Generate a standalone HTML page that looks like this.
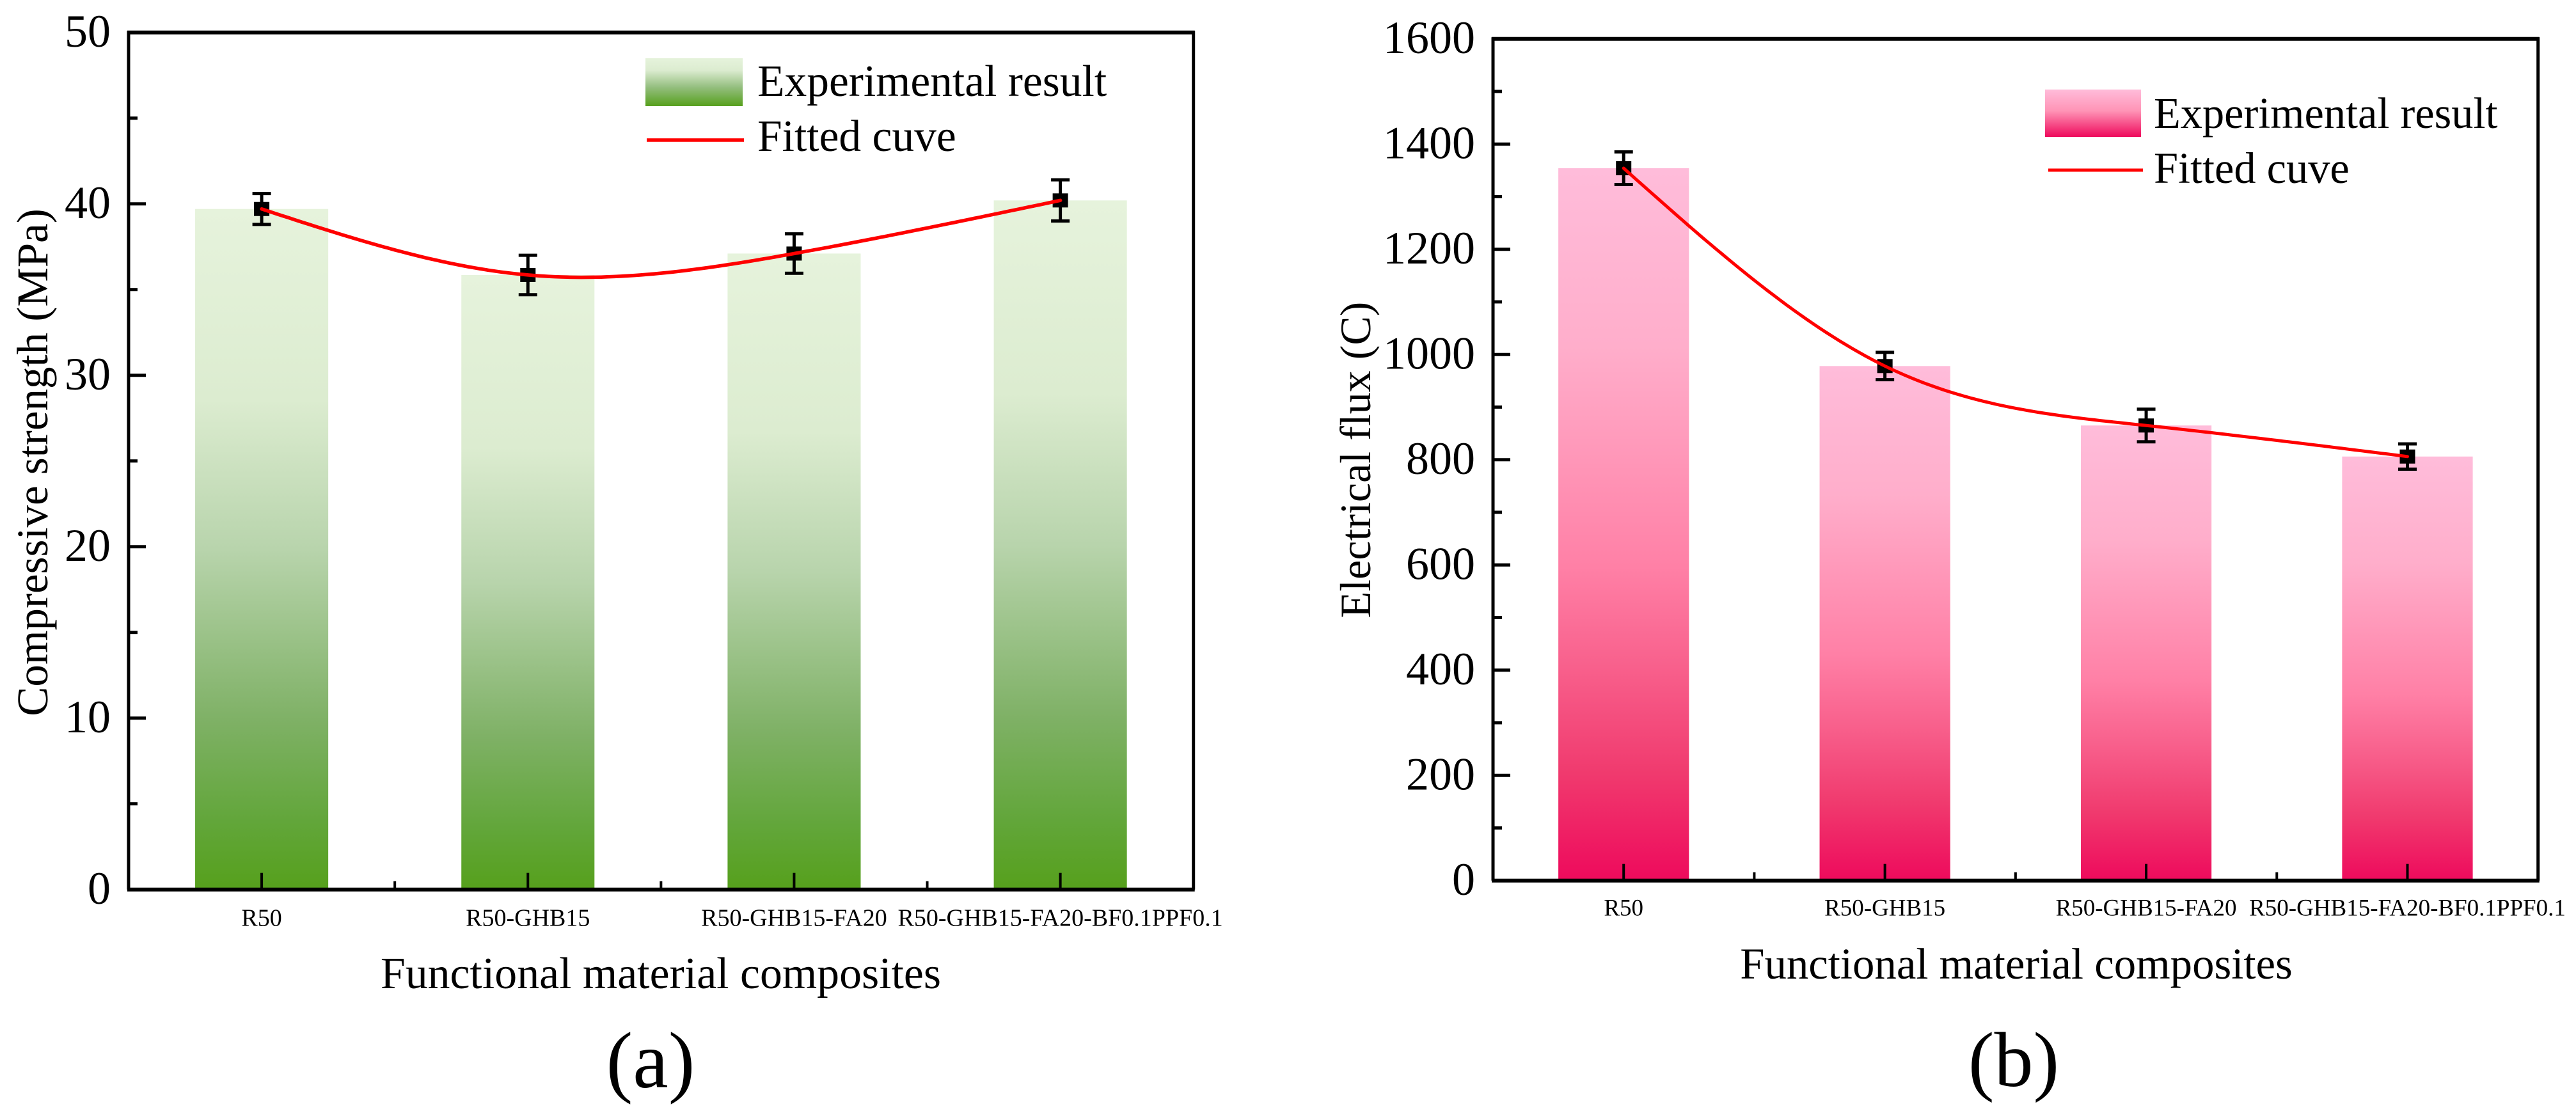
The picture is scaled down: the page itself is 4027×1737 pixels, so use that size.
<!DOCTYPE html>
<html lang="en">
<head>
<meta charset="utf-8">
<title>Compressive strength and electrical flux of functional material composites</title>
<style>
html,body{margin:0;padding:0;background:#fff;width:4027px;height:1737px;overflow:hidden}
svg{display:block}
text{font-family:"Liberation Serif","Times New Roman",serif;fill:#000}
</style>
</head>
<body>
<svg id="figure" xmlns="http://www.w3.org/2000/svg" width="4027" height="1737" viewBox="0 0 4027 1737">
<defs>
<linearGradient id="greenFill" x1="0" y1="0" x2="0" y2="1">
<stop offset="0" stop-color="#e6f3dc"/><stop offset="0.28" stop-color="#dcecd0"/><stop offset="0.5" stop-color="#b8d4ac"/><stop offset="0.75" stop-color="#7fb166"/><stop offset="0.9" stop-color="#62a63a"/><stop offset="1" stop-color="#56a01c"/>
</linearGradient>
<linearGradient id="pinkFill" x1="0" y1="0" x2="0" y2="1">
<stop offset="0" stop-color="#ffbcda"/><stop offset="0.25" stop-color="#ffaecb"/><stop offset="0.56" stop-color="#ff80a6"/><stop offset="0.7" stop-color="#f8608c"/><stop offset="0.85" stop-color="#f03a6e"/><stop offset="1" stop-color="#ee0a5c"/>
</linearGradient>
<linearGradient id="greenSwatch" x1="0" y1="0" x2="0" y2="1">
<stop offset="0" stop-color="#e6f3dc"/><stop offset="0.25" stop-color="#dcecd0"/><stop offset="0.6" stop-color="#95bf80"/><stop offset="1" stop-color="#56a01c"/>
</linearGradient>
<linearGradient id="pinkSwatch" x1="0" y1="0" x2="0" y2="1">
<stop offset="0" stop-color="#ffbcda"/><stop offset="0.45" stop-color="#ff94b6"/><stop offset="1" stop-color="#ee0a5c"/>
</linearGradient>
</defs>
<text x="1017" y="1700" font-size="125" text-anchor="middle">(a)</text>
<text x="3148" y="1698" font-size="122" text-anchor="middle">(b)</text>
</svg>
<script>
const categories = ["R50", "R50-GHB15", "R50-GHB15-FA20", "R50-GHB15-FA20-BF0.1PPF0.1"];
const strengthValues = [39.7, 35.85, 37.1, 40.2];
const strengthErrors = [0.9, 1.15, 1.15, 1.2];
const strengthTicks = [0, 10, 20, 30, 40, 50];
const strengthMinorTicks = [5, 15, 25, 35, 45];
const fluxValues = [1354, 978, 865, 806];
const fluxErrors = [31, 26, 31, 24];
const fluxTicks = [0, 200, 400, 600, 800, 1000, 1200, 1400, 1600];
const fluxMinorTicks = [100, 300, 500, 700, 900, 1100, 1300, 1500];

const svg = document.getElementById('figure');
const NS = 'http://www.w3.org/2000/svg';

function mk(tag, attrs, parent) {
  const el = document.createElementNS(NS, tag);
  for (const k in attrs) el.setAttribute(k, attrs[k]);
  (parent || svg).appendChild(el);
  return el;
}

function splinePath(xs, ys, samplesPerSegment) {
  const n = xs.length;
  const a = new Array(n).fill(0), b = new Array(n).fill(1), c = new Array(n).fill(0), d = new Array(n).fill(0);
  for (let i = 1; i < n - 1; i++) {
    const h0 = xs[i] - xs[i - 1], h1 = xs[i + 1] - xs[i];
    a[i] = h0; b[i] = 2 * (h0 + h1); c[i] = h1;
    d[i] = 6 * ((ys[i + 1] - ys[i]) / h1 - (ys[i] - ys[i - 1]) / h0);
  }
  for (let i = 1; i < n; i++) {
    const m = a[i] / b[i - 1];
    b[i] -= m * c[i - 1];
    d[i] -= m * d[i - 1];
  }
  const m2 = new Array(n).fill(0);
  m2[n - 1] = d[n - 1] / b[n - 1];
  for (let i = n - 2; i >= 0; i--) m2[i] = (d[i] - c[i] * m2[i + 1]) / b[i];
  let path = 'M' + xs[0] + ' ' + ys[0];
  for (let i = 0; i < n - 1; i++) {
    const h = xs[i + 1] - xs[i];
    for (let s = 1; s <= samplesPerSegment; s++) {
      const t = s / samplesPerSegment, u = 1 - t;
      const y = u * ys[i] + t * ys[i + 1] + ((u * u * u - u) * m2[i] + (t * t * t - t) * m2[i + 1]) * h * h / 6;
      path += 'L' + (xs[i] + t * h).toFixed(1) + ' ' + y.toFixed(1);
    }
  }
  return path;
}

function drawPanel(cfg, values, errors, ticks, minorTicks) {
  const g = mk('g', {});
  
  

  const yScale = v => cfg.bottom - (v - cfg.yMin) / (cfg.yMax - cfg.yMin) * (cfg.bottom - cfg.top);
  const step = (cfg.right - cfg.left) / categories.length;
  const xScale = i => cfg.left + step * (i + 0.5);
  const barW = step * 0.5;

  values.forEach((v, i) => {
    const bar = mk('rect', { x: xScale(i) - barW / 2, y: yScale(v), width: barW, height: yScale(cfg.yMin) - yScale(v), fill: 'url(#' + cfg.fill + ')' }, g);
    
    
  });

  const frame = mk('path', { d: 'M' + cfg.left + ' ' + cfg.bottom + 'V' + cfg.top + 'H' + cfg.right + 'V' + cfg.bottom, fill: 'none', stroke: '#000', 'stroke-width': 5 }, g);
  
  
  const topAxis = mk('line', { x1: cfg.left - 2, x2: cfg.right + 2, y1: cfg.top, y2: cfg.top, stroke: '#000', 'stroke-width': 6 }, g);
  
  
  const bottomAxis = mk('line', { x1: cfg.left - 2, x2: cfg.right + 2, y1: cfg.bottom, y2: cfg.bottom, stroke: '#000', 'stroke-width': 6 }, g);
  
  

  ticks.forEach(t => {
    const tick = mk('line', { x1: cfg.left, x2: cfg.left + 27, y1: yScale(t), y2: yScale(t), stroke: '#000', 'stroke-width': 5 }, g);
    
    
    const label = mk('text', { x: cfg.left - 28, y: yScale(t) + 22.5, 'font-size': 72, 'text-anchor': 'end' }, g);
    label.textContent = t;
    
    
  });
  minorTicks.forEach(t => {
    const tick = mk('line', { x1: cfg.left, x2: cfg.left + 14, y1: yScale(t), y2: yScale(t), stroke: '#000', 'stroke-width': 5 }, g);
    
    
  });

  categories.forEach((c, i) => {
    const tick = mk('line', { x1: xScale(i), x2: xScale(i), y1: cfg.bottom, y2: cfg.bottom - 26, stroke: '#000', 'stroke-width': 4 }, g);
    
    
    if (i < categories.length - 1) {
      const minor = mk('line', { x1: xScale(i + 0.5), x2: xScale(i + 0.5), y1: cfg.bottom, y2: cfg.bottom - 13, stroke: '#000', 'stroke-width': 4 }, g);
      
      
    }
    const label = mk('text', { x: xScale(i), y: cfg.bottom + cfg.catOffset, 'font-size': cfg.catSize, 'text-anchor': 'middle' }, g);
    label.textContent = c;
    
    
  });

  values.forEach((v, i) => {
    const cx = xScale(i);
    const hi = yScale(v + errors[i]), lo = yScale(v - errors[i]);
    const stem = mk('line', { x1: cx, x2: cx, y1: hi, y2: lo, stroke: '#000', 'stroke-width': 5 }, g);
    
    
    const capTop = mk('line', { x1: cx - 14.5, x2: cx + 14.5, y1: hi, y2: hi, stroke: '#000', 'stroke-width': 5 }, g);
    
    
    const capBottom = mk('line', { x1: cx - 14.5, x2: cx + 14.5, y1: lo, y2: lo, stroke: '#000', 'stroke-width': 5 }, g);
    
    
    const point = mk('rect', { x: cx - 12, y: yScale(v) - 11, width: 24, height: 22, fill: '#000' }, g);
    
    
  });

  const curve = mk('path', { d: splinePath(values.map((_, i) => xScale(i)), values.map(yScale), 40), fill: 'none', stroke: '#ff0000', 'stroke-width': cfg.lineW, 'stroke-linejoin': 'round', 'stroke-linecap': 'round' }, g);
  
  

  const yTitle = mk('text', { transform: 'translate(' + cfg.yTitleX + ' ' + cfg.yTitleY + ') rotate(-90)', 'font-size': cfg.titleSize, 'text-anchor': 'middle' }, g);
  yTitle.textContent = cfg.yTitle;
  
  
  const xTitle = mk('text', { x: cfg.xTitleX, y: cfg.xTitleY, 'font-size': cfg.xTitleSize, 'text-anchor': 'middle' }, g);
  xTitle.textContent = 'Functional material composites';
  
  

  const swatch = mk('rect', { x: cfg.swatch[0], y: cfg.swatch[1], width: cfg.swatch[2], height: cfg.swatch[3], fill: 'url(#' + cfg.swatchFill + ')' }, g);
  
  
  const legendText1 = mk('text', { x: cfg.legendX, y: cfg.legendY1, 'font-size': cfg.legendSize }, g);
  legendText1.textContent = 'Experimental result';
  
  
  const legendLine = mk('line', { x1: cfg.legendLine[0], x2: cfg.legendLine[1], y1: cfg.legendLine[2], y2: cfg.legendLine[2], stroke: '#ff0000', 'stroke-width': cfg.lineW }, g);
  
  
  const legendText2 = mk('text', { x: cfg.legendX, y: cfg.legendY2, 'font-size': cfg.legendSize }, g);
  legendText2.textContent = 'Fitted cuve';
  
  
}

drawPanel({
  name: 'panel-a-compressive-strength', left: 201, right: 1865.7, top: 50.7, bottom: 1390.7, yMin: 0, yMax: 50,
  fill: 'greenFill', swatchFill: 'greenSwatch', lineW: 5.5, catSize: 38, catOffset: 57,
  yTitle: 'Compressive strength (MPa)', yTitleX: 74, yTitleY: 723, titleSize: 69, xTitleX: 1033, xTitleY: 1545, xTitleSize: 69.8,
  swatch: [1009, 91, 152, 75], legendX: 1184, legendY1: 150, legendY2: 236, legendSize: 69.5, legendLine: [1011, 1163, 219]
}, strengthValues, strengthErrors, strengthTicks, strengthMinorTicks);

drawPanel({
  name: 'panel-b-electrical-flux', left: 2334, right: 3967.7, top: 60.7, bottom: 1376.7, yMin: 0, yMax: 1600,
  fill: 'pinkFill', swatchFill: 'pinkSwatch', lineW: 5, catSize: 37, catOffset: 55,
  yTitle: 'Electrical flux (C)', yTitleX: 2142, yTitleY: 719, titleSize: 68, xTitleX: 3152, xTitleY: 1530, xTitleSize: 68.8,
  swatch: [3197, 140, 150, 74], legendX: 3367, legendY1: 200, legendY2: 286, legendSize: 68.4, legendLine: [3202, 3350, 266]
}, fluxValues, fluxErrors, fluxTicks, fluxMinorTicks);
</script>
</body>
</html>
